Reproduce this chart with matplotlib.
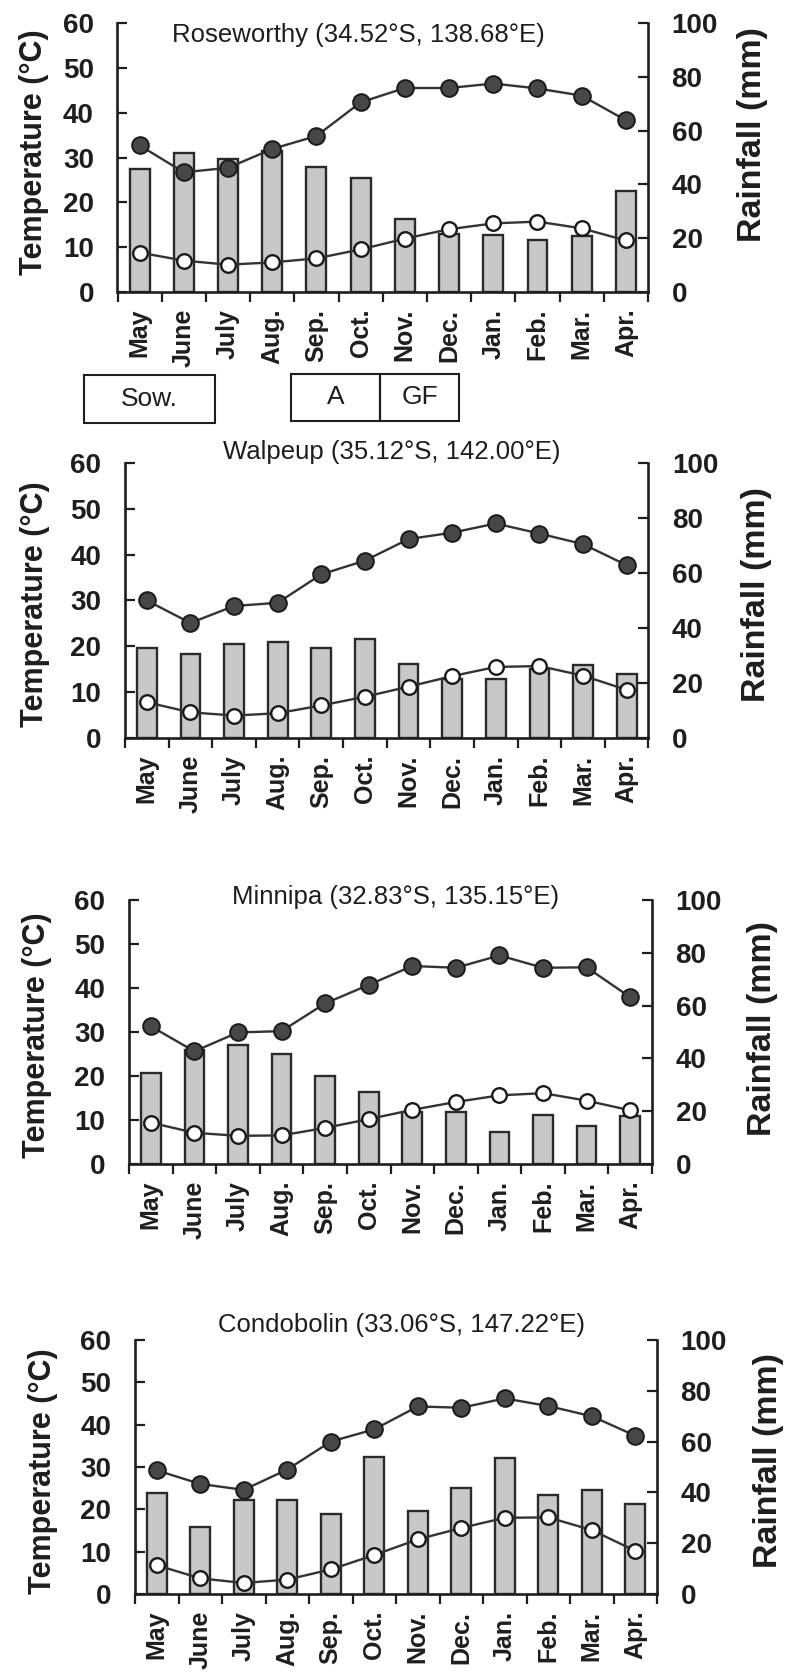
import numpy as np
import matplotlib
matplotlib.use("Agg")
import matplotlib.pyplot as plt
from matplotlib.patches import Rectangle

plt.rcParams['font.family'] = ['Liberation Sans', 'DejaVu Sans']

# ---- data -------------------------------------------------------------
months = ["May", "June", "July", "Aug.", "Sep.", "Oct.",
          "Nov.", "Dec.", "Jan.", "Feb.", "Mar.", "Apr."]
temp_ticks = [0, 10, 20, 30, 40, 50, 60]
rain_ticks = [0, 20, 40, 60, 80, 100]

station_names = ["Roseworthy (34.52°S, 138.68°E)",
                 "Walpeup (35.12°S, 142.00°E)",
                 "Minnipa (32.83°S, 135.15°E)",
                 "Condobolin (33.06°S, 147.22°E)"]

# mean monthly maximum temperature (°C)
roseworthy_tmax = [32.7, 26.7, 27.7, 31.9, 34.8, 42.3, 45.5, 45.5, 46.5, 45.4, 43.8, 38.3]
walpeup_tmax = [30.0, 25.1, 28.8, 29.5, 35.7, 38.7, 43.4, 44.8, 46.8, 44.6, 42.3, 37.7]
minnipa_tmax = [31.3, 25.6, 29.9, 30.2, 36.5, 40.7, 45.0, 44.6, 47.4, 44.6, 44.7, 37.9]
condobolin_tmax = [29.2, 26.0, 24.6, 29.4, 36.0, 38.9, 44.3, 44.0, 46.2, 44.4, 42.0, 37.4]

# mean monthly minimum temperature (°C)
roseworthy_tmin = [8.8, 7.0, 6.1, 6.6, 7.5, 9.5, 11.9, 14.0, 15.3, 15.7, 14.2, 11.5]
walpeup_tmin = [7.8, 5.6, 4.9, 5.4, 7.1, 9.0, 11.2, 13.5, 15.5, 15.7, 13.6, 10.5]
minnipa_tmin = [9.4, 7.1, 6.4, 6.5, 8.2, 10.2, 12.3, 14.1, 15.6, 16.1, 14.4, 12.2]
condobolin_tmin = [6.8, 3.7, 2.6, 3.4, 5.8, 9.2, 12.9, 15.6, 18.0, 18.1, 15.1, 10.2]

# mean monthly rainfall (mm)
roseworthy_rain = [45.8, 51.5, 49.5, 52.5, 46.5, 42.4, 27.3, 21.5, 21.2, 19.2, 21.0, 37.4]
walpeup_rain = [32.9, 30.7, 34.0, 35.0, 32.8, 36.0, 26.8, 21.5, 21.5, 25.0, 26.5, 23.2]
minnipa_rain = [34.6, 43.3, 45.1, 41.8, 33.3, 27.3, 19.8, 19.8, 12.1, 18.5, 14.4, 18.1]
condobolin_rain = [39.8, 26.2, 37.2, 36.9, 31.6, 54.1, 32.8, 41.9, 53.6, 38.9, 40.8, 35.4]

# crop stage boxes under the first panel
stage_labels = ["Sow.", "A", "GF"]

# ---- layout (pixel coordinates, origin top-left) -----------------------
W, H = 786, 1675
fig = plt.figure(figsize=(W / 100, H / 100), dpi=100)

panels = [
    dict(name=station_names[0], tmax=roseworthy_tmax, tmin=roseworthy_tmin,
         rain=roseworthy_rain, rect=(117.5, 23, 648, 292),
         title_xy=(358, 35), tlab_xy=(34, 152), rlab_xy=(753, 135)),
    dict(name=station_names[1], tmax=walpeup_tmax, tmin=walpeup_tmin,
         rain=walpeup_rain, rect=(125, 463, 648.5, 738),
         title_xy=(392, 452), tlab_xy=(35, 604), rlab_xy=(757, 595)),
    dict(name=station_names[2], tmax=minnipa_tmax, tmin=minnipa_tmin,
         rain=minnipa_rain, rect=(129, 900, 652, 1164),
         title_xy=(396, 897), tlab_xy=(37.5, 1035), rlab_xy=(763, 1028)),
    dict(name=station_names[3], tmax=condobolin_tmax, tmin=condobolin_tmin,
         rain=condobolin_rain, rect=(135, 1340, 657, 1594),
         title_xy=(402, 1325), tlab_xy=(43, 1471), rlab_xy=(768, 1461)),
]

INK = '#1e1e1e'
LINE = '#333333'


def fx(x):
    return x / W


def fy(y):
    return 1 - y / H


for p in panels:
    left, top, right, bottom = p['rect']
    ax = fig.add_axes([fx(left), fy(bottom), (right - left) / W, (bottom - top) / H])
    ax2 = ax.twinx()
    x = np.arange(len(months))

    ax2.bar(x, p['rain'], width=0.45, color='#c8c8c8', edgecolor='#2a2a2a',
            linewidth=1.7, zorder=2)
    ax.plot(x, p['tmax'], '-o', color=LINE, lw=1.7, ms=12,
            mfc='#474747', mec='#1a1a1a', mew=1.4, zorder=3)
    ax.plot(x, p['tmin'], '-o', color=LINE, lw=1.7, ms=10.5,
            mfc='white', mec='#1a1a1a', mew=1.7, zorder=3)

    ax.set_zorder(ax2.get_zorder() + 1)
    ax.patch.set_visible(False)

    ax.set_xlim(-0.5, len(months) - 0.5)
    ax.set_ylim(0, 60)
    ax2.set_ylim(0, 100)

    for a in (ax, ax2):
        a.spines['top'].set_visible(False)
    ax.spines['right'].set_visible(False)
    ax2.spines['left'].set_visible(False)
    ax2.spines['bottom'].set_visible(False)
    for s in ('left', 'bottom'):
        ax.spines[s].set_linewidth(1.9)
        ax.spines[s].set_color(INK)
    ax2.spines['right'].set_linewidth(1.9)
    ax2.spines['right'].set_color(INK)

    ax.set_yticks(temp_ticks, labels=[str(t) for t in temp_ticks],
                  fontweight='bold', fontsize=20)
    ax2.set_yticks(rain_ticks, labels=[str(t) for t in rain_ticks],
                   fontweight='bold', fontsize=20)
    ax.tick_params(axis='y', direction='in', length=7, width=1.6,
                   color=INK, pad=17, labelcolor=INK)
    ax2.tick_params(axis='y', direction='in', length=7, width=1.6,
                    color=INK, pad=17, labelcolor=INK)

    ax.set_xticks(np.arange(-0.5, len(months), 1.0), labels=[])
    ax.set_xticks(x, labels=months, minor=True, rotation=90,
                  fontweight='bold', fontsize=18)
    ax.tick_params(axis='x', which='major', direction='out', length=7,
                   width=1.6, color=INK)
    ax.tick_params(axis='x', which='minor', length=0, pad=12, labelcolor=INK)

    fig.text(fx(p['title_xy'][0]), fy(p['title_xy'][1]), p['name'],
             ha='center', va='center', fontsize=18.5, color=INK)
    fig.text(fx(p['tlab_xy'][0]), fy(p['tlab_xy'][1]), 'Temperature (°C)',
             rotation=90, ha='center', va='center', fontsize=22,
             fontweight='bold', color=INK)
    fig.text(fx(p['rlab_xy'][0]), fy(p['rlab_xy'][1]), 'Rainfall (mm)',
             rotation=90, ha='center', va='center', fontsize=24.5,
             fontweight='bold', color=INK)

# crop stage boxes: sowing, anthesis, grain filling
stage_boxes = [(84, 375, 215, 423), (291, 374, 380, 421), (380, 374, 459, 421)]
for label, (x0, y0, x1, y1) in zip(stage_labels, stage_boxes):
    fig.add_artist(Rectangle((fx(x0), fy(y1)), (x1 - x0) / W, (y1 - y0) / H,
                             transform=fig.transFigure, fill=False,
                             linewidth=1.5, edgecolor=INK))
    fig.text(fx((x0 + x1) / 2), fy((y0 + y1) / 2), label, ha='center',
             va='center', fontsize=19, color=INK)

fig.savefig('out.png', dpi=100)
